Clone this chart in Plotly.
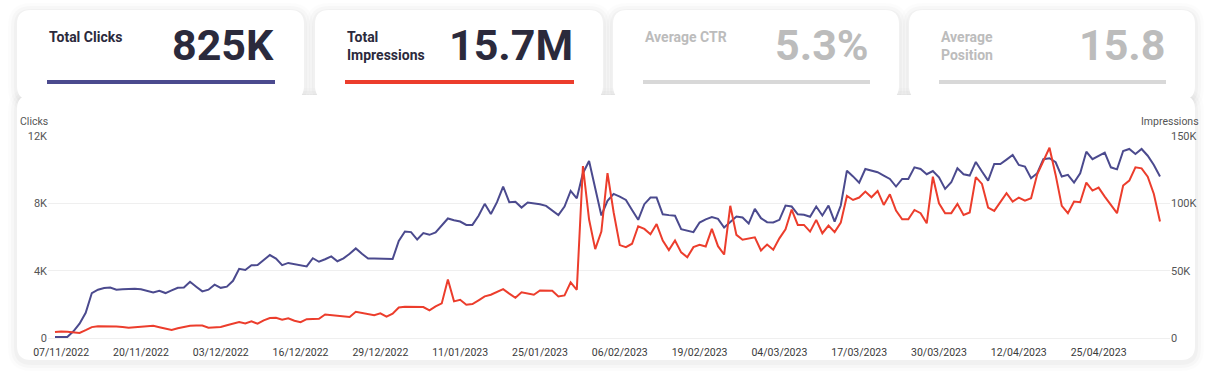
import plotly.graph_objects as go

# ---------------- data ----------------
clicks_k = [
    0.06, 0.06, 0.06, 0.4, 0.85, 1.5, 2.67, 2.87, 2.97, 3.0,
    2.87, 2.89, 2.93, 2.93, 2.9, 2.8, 2.71, 2.8, 2.67, 2.83,
    2.98, 3.0, 3.34, 3.05, 2.77, 2.87, 3.17, 2.98, 3.05, 3.4,
    4.11, 4.04, 4.32, 4.33, 4.65, 4.93, 4.72, 4.33, 4.46, 4.38,
    4.31, 4.25, 4.74, 4.53, 4.68, 4.85, 4.56, 4.73, 5.0, 5.32,
    5.0, 4.72, 4.72, 4.71, 4.7, 4.69, 5.77, 6.33, 6.29, 5.85,
    6.23, 6.13, 6.27, 6.7, 7.1, 7.0, 6.92, 6.72, 6.72, 7.26,
    7.97, 7.37, 8.07, 9.0, 8.07, 8.1, 7.75, 8.05, 8.0, 7.95,
    7.85, 7.6, 7.3, 7.81, 8.74, 8.3, 9.79, 10.52, 8.9, 7.28,
    8.15, 8.56, 8.4, 8.2, 7.6, 7.02, 7.95, 8.34, 8.34, 7.35,
    7.3, 7.26, 6.47, 6.4, 6.29, 6.86, 7.05, 7.18, 7.08, 6.56,
    6.9, 7.22, 7.16, 6.8, 7.67, 7.12, 6.88, 6.86, 7.02, 7.87,
    7.81, 7.35, 7.32, 7.2, 7.81, 7.28, 7.87, 6.92, 7.87, 9.94,
    9.6, 9.23, 10.04, 9.95, 9.85, 9.65, 9.45, 9.0, 9.45, 9.45,
    10.14, 10.04, 9.73, 9.92, 9.55, 8.86, 9.25, 10.08, 9.73, 9.65,
    10.46, 9.89, 9.35, 10.34, 10.34, 10.6, 10.87, 10.28, 10.18, 9.49,
    9.79, 10.62, 10.68, 10.44, 9.59, 9.69, 9.23, 9.79, 11.07, 10.62,
    10.8, 11.01, 10.14, 10.02, 11.11, 11.23, 10.93, 11.23, 10.83, 10.28,
    9.59,
]

impressions_k = [
    4.4, 4.9, 4.7, 4.4, 3.7, 5.8, 8.1, 8.8, 8.8, 8.7,
    8.6, 8.2, 7.7, 8.0, 8.5, 8.8, 9.1, 8.0, 6.9, 5.9,
    7.2, 8.2, 9.1, 9.2, 9.3, 7.7, 7.9, 8.2, 9.4, 10.8,
    11.9, 10.8, 12.4, 10.6, 13.1, 14.8, 15.0, 13.6, 14.7, 12.8,
    11.7, 14.0, 14.1, 14.3, 17.5, 17.0, 16.3, 16.0, 15.6, 19.5,
    18.5, 17.8, 17.0, 18.3, 15.8, 18.0, 22.7, 23.2, 23.2, 23.2,
    23.0, 20.5, 23.5, 25.7, 43.5, 27.2, 28.4, 24.7, 25.2, 28.0,
    30.9, 32.1, 34.5, 36.3, 33.0, 29.9, 33.9, 33.0, 32.1, 35.3,
    35.2, 35.1, 30.9, 31.6, 41.3, 35.8, 127.7, 88.0, 66.0, 79.0,
    122.5, 93.4, 69.0, 67.5, 70.0, 83.0, 81.0, 77.0, 84.6, 72.4,
    65.3, 72.4, 63.6, 60.0, 67.5, 69.2, 68.0, 81.0, 68.2, 62.0,
    98.2, 76.6, 73.0, 73.8, 74.8, 65.0, 69.4, 65.5, 74.0, 80.8,
    95.4, 84.0, 84.0, 79.0, 87.7, 77.8, 83.5, 78.6, 85.7, 105.5,
    102.5, 104.3, 108.7, 104.5, 109.2, 98.8, 106.7, 94.6, 88.2, 88.2,
    95.1, 92.7, 85.2, 119.8, 100.0, 92.7, 92.7, 99.6, 91.4, 93.2,
    119.5, 114.4, 96.9, 94.4, 100.8, 107.5, 101.3, 104.3, 102.0, 103.8,
    121.6, 131.5, 141.3, 121.1, 98.1, 92.7, 101.3, 100.8, 115.4, 109.5,
    111.7, 105.0, 98.7, 92.7, 113.2, 116.9, 126.8, 126.0, 119.8, 107.0,
    86.5,
]

x_tick_labels = [
    "07/11/2022", "20/11/2022", "03/12/2022", "16/12/2022", "29/12/2022",
    "11/01/2023", "25/01/2023", "06/02/2023", "19/02/2023", "04/03/2023",
    "17/03/2023", "30/03/2023", "12/04/2023", "25/04/2023",
]
x_tick_index = [1 + 13 * k for k in range(len(x_tick_labels))]

clicks_ticks = [0, 4, 8, 12]
clicks_tick_text = ["0", "4K", "8K", "12K"]
impr_ticks = [0, 50, 100, 150]
impr_tick_text = ["0", "50K", "100K", "150K"]

card_titles = ["Total Clicks", "Total<br>Impressions", "Average CTR", "Average<br>Position"]
card_values = ["825K", "15.7M", "5.3%", "15.8"]

# ---------------- style ----------------
W, H = 1213, 384
L, R, T, B = 48, 43, 136, 46
PW, PH = W - L - R, H - T - B

BLUE = "#4b4a8e"
RED = "#ec3d2c"
DARK = "#2b2a3c"
GREY_TXT = "#bcbcbc"
GREY_BAR = "#d8d8d8"
FONT = "Roboto, sans-serif"


def px(x):
    return (x - L) / PW


def py(y):
    return (H - B - y) / PH


def rrect(x0, y0, x1, y1, r):
    p = [
        (x0 + r, y0), (x1 - r, y0), ("Q", x1, y0, x1, y0 + r),
        (x1, y1 - r), ("Q", x1, y1, x1 - r, y1), (x0 + r, y1),
        ("Q", x0, y1, x0, y1 - r), (x0, y0 + r), ("Q", x0, y0, x0 + r, y0),
    ]
    s = ""
    for i, q in enumerate(p):
        if q[0] == "Q":
            s += f" Q {px(q[1]):.5f},{py(q[2]):.5f} {px(q[3]):.5f},{py(q[4]):.5f}"
        else:
            s += (" M " if i == 0 else " L ") + f"{px(q[0]):.5f},{py(q[1]):.5f}"
    return s + " Z"


x_idx = list(range(len(clicks_k)))

fig = go.Figure()
fig.add_trace(go.Scatter(x=x_idx, y=clicks_k, mode="lines", name="Clicks",
                         line=dict(color=BLUE, width=2), yaxis="y"))
fig.add_trace(go.Scatter(x=x_idx, y=impressions_k, mode="lines", name="Impressions",
                         line=dict(color=RED, width=2), yaxis="y2"))

shapes = []
card_x = [(17, 304), (315, 603), (613, 899), (909, 1195)]
rects = [(17, 95, 1195, 360, 14)] + [(a, 10, b, 100, 14) for a, b in card_x]
# shadows
for (x0, y0, x1, y1, r) in rects:
    for g, op in [(9, 0.012), (6, 0.018), (3, 0.025)]:
        shapes.append(dict(type="path", xref="paper", yref="paper", layer="below",
                           path=rrect(x0 - g, y0 - g + 2, x1 + g, y1 + g + 2, r + g),
                           fillcolor=f"rgba(0,0,0,{op})", line=dict(width=0)))
for (x0, y0, x1, y1, r) in rects:
    shapes.append(dict(type="path", xref="paper", yref="paper", layer="below",
                       path=rrect(x0, y0, x1, y1, r),
                       fillcolor="white", line=dict(width=0)))

bar_colors = [BLUE, RED, GREY_BAR, GREY_BAR]
text_colors = [DARK, DARK, GREY_TXT, GREY_TXT]
annotations = []
for k, (a, b) in enumerate(card_x):
    tx0 = a + 30
    tx1 = b - 29
    shapes.append(dict(type="rect", xref="paper", yref="paper", layer="below",
                       x0=px(tx0), x1=px(tx1), y0=py(84), y1=py(80),
                       fillcolor=bar_colors[k], line=dict(width=0)))
    two_line = "<br>" in card_titles[k]
    annotations.append(dict(xref="paper", yref="paper", x=px(tx0),
                            y=py(46 if two_line else 37), xanchor="left", yanchor="middle",
                            text=f"<b>{card_titles[k]}</b>", showarrow=False, align="left",
                            font=dict(family=FONT, size=14, color=text_colors[k])))
    annotations.append(dict(xref="paper", yref="paper", x=px(tx1 + 1), y=py(45),
                            xanchor="right", yanchor="middle",
                            text=f"<b>{card_values[k]}</b>", showarrow=False,
                            font=dict(family=FONT, size=43, color=text_colors[k])))

annotations.append(dict(xref="paper", yref="paper", x=px(34), y=py(122),
                        xanchor="center", yanchor="middle", text="Clicks", showarrow=False,
                        font=dict(family=FONT, size=10.5, color="#555")))
annotations.append(dict(xref="paper", yref="paper", x=px(1170), y=py(122),
                        xanchor="center", yanchor="middle", text="Impressions", showarrow=False,
                        font=dict(family=FONT, size=10.5, color="#555")))

fig.update_layout(
    width=W, height=H,
    margin=dict(l=L, r=R, t=T, b=B, pad=0),
    paper_bgcolor="white", plot_bgcolor="rgba(0,0,0,0)",
    showlegend=False,
    shapes=shapes, annotations=annotations,
    xaxis=dict(range=[-1.14, 181.63], tickmode="array", tickvals=x_tick_index,
               ticktext=x_tick_labels, showgrid=False, zeroline=False, showline=False,
               ticks="", ticklabelstandoff=6,
               tickfont=dict(family=FONT, size=10.5, color="#3a3a3a")),
    yaxis=dict(range=[0, 12.001], tickmode="array", tickvals=clicks_ticks,
               ticktext=clicks_tick_text, showgrid=True, gridcolor="#efefef", gridwidth=1,
               zeroline=True, zerolinecolor="#efefef", zerolinewidth=1, showline=False,
               ticks="", tickfont=dict(family=FONT, size=11, color="#555")),
    yaxis2=dict(range=[0, 150.0125], overlaying="y", side="right", tickmode="array",
                tickvals=impr_ticks, ticktext=impr_tick_text, showgrid=False,
                zeroline=False, showline=False, ticks="",
                tickfont=dict(family=FONT, size=11, color="#555")),
)

fig.write_html("out.html", config={"displayModeBar": False},
               post_script="document.body.style.margin='0px';")
